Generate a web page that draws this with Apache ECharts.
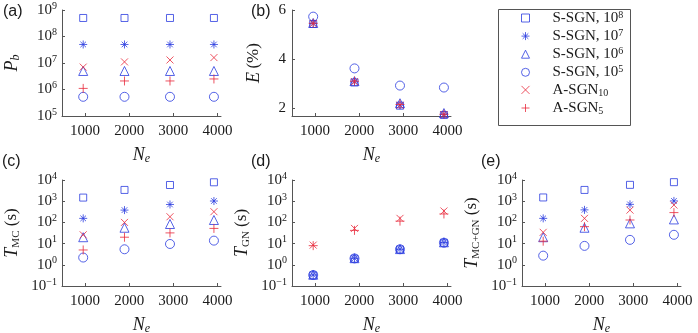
<!DOCTYPE html>
<html>
<head>
<meta charset="utf-8">
<script src="https://cdn.jsdelivr.net/npm/echarts@6/dist/echarts.min.js"></script>
<style>
  html, body { margin: 0; background: #fff; }
  #chart { width: 698px; height: 333px; }
</style>
</head>
<body>
<div id="chart"></div>
<script>
// N_e tick labels and where the points actually sit
var neTicks = [1000, 2000, 3000, 4000];
var nePos = [960, 1895, 2925, 3920];

var names = ['S-SGN, 10^8', 'S-SGN, 10^7', 'S-SGN, 10^6', 'S-SGN, 10^5', 'A-SGN_10', 'A-SGN_5'];

// (a) P_b
var pbVals = [
  [5e8, 5e8, 5e8, 5e8],
  [5e7, 5e7, 5e7, 5e7],
  [5e6, 5e6, 5e6, 5e6],
  [5.3e5, 5.3e5, 5.3e5, 5.3e5],
  [7e6, 1.1e7, 1.3e7, 1.6e7],
  [1.1e6, 2.1e6, 2.1e6, 2.5e6]
];
// (b) E (%)
var eVals = [
  [5.43, 3.05, 2.10, 1.72],
  [5.45, 3.07, 2.12, 1.74],
  [5.47, 3.10, 2.20, 1.80],
  [5.73, 3.62, 2.92, 2.84],
  [5.45, 3.08, 2.12, 1.74],
  [5.46, 3.10, 2.15, 1.75]
];
// (c) T_MC (s)
var tmcVals = [
  [1480, 3400, 5800, 7800],
  [155, 380, 700, 1020],
  [20, 56, 84, 130],
  [2.2, 5.4, 9.6, 13.8],
  [26, 100, 185, 320],
  [5, 20, 32, 52]
];
// (d) T_GN (s)
var tgnVals = [
  [0.32, 1.95, 5.3, 11],
  [0.33, 2.0, 5.4, 11.2],
  [0.34, 2.05, 5.5, 11.5],
  [0.33, 2.0, 5.4, 11],
  [8.5, 52, 155, 345],
  [8, 42, 115, 250]
];
// (e) T_MC+GN (s)
var ttotVals = [
  [1500, 3400, 5900, 7900],
  [155, 390, 710, 1030],
  [20, 56, 90, 138],
  [2.7, 7.8, 15, 26],
  [34, 155, 380, 660],
  [13, 63, 130, 290]
];
var logTicksA = [1e5, 1e6, 1e7, 1e8, 1e9];
var logTicksT = [0.1, 1, 10, 100, 1000, 10000];
var eTicks = [2, 4, 6];

var BLUE = '#2a3be0', RED = '#e8283a';
var SERIF = 'Liberation Serif';
var INK = '#1a1a1a';
var AXIS = '#555';

var markers = [
  { symbol: 'rect', size: 7, color: BLUE },
  { symbol: 'path://M5,0L5,10M0,5L10,5M1.5,1.5L8.5,8.5M1.5,8.5L8.5,1.5', size: 8, color: BLUE },
  { symbol: 'triangle', size: 9, color: BLUE },
  { symbol: 'circle', size: 9, color: BLUE },
  { symbol: 'path://M0,0L10,10M0,10L10,0', size: 7, color: RED },
  { symbol: 'path://M5,0L5,10M0,5L10,5', size: 9, color: RED }
];

var tickRich = {
  b: { fontFamily: SERIF, fontSize: 15, lineHeight: 18, color: INK },
  s: { fontFamily: SERIF, fontSize: 10, lineHeight: 10, verticalAlign: 'top', color: INK }
};
var nameRich = {
  i: { fontFamily: SERIF, fontSize: 18, fontStyle: 'italic', lineHeight: 20, color: INK },
  n: { fontFamily: SERIF, fontSize: 17, lineHeight: 20, color: INK },
  sub: { fontFamily: SERIF, fontSize: 11, lineHeight: 11, verticalAlign: 'bottom', color: INK },
  isub: { fontFamily: SERIF, fontSize: 12, fontStyle: 'italic', lineHeight: 11, verticalAlign: 'bottom', color: INK }
};

function logLabel(v) {
  var e = Math.round(Math.log10(v));
  return '{b|10}{s|' + (e < 0 ? '\u2212' + (-e) : e) + '}';
}

var panels = [
  { vals: pbVals, left: 62, top: 10, log: true, min: 1e5, max: 1e9, ticks: logTicksA,
    name: '{i|P}{isub|b}', gap: 40 },
  { vals: eVals, left: 292, top: 10, log: false, min: 1.68, max: 6, ticks: eTicks,
    name: '{i|E} {n|(%)}', gap: 28 },
  { vals: tmcVals, left: 62, top: 180, log: true, min: 0.1, max: 1e4, ticks: logTicksT,
    name: '{i|T}{sub|MC}{n| (s)}', gap: 40 },
  { vals: tgnVals, left: 292, top: 180, log: true, min: 0.1, max: 1e4, ticks: logTicksT,
    name: '{i|T}{sub|GN}{n| (s)}', gap: 40 },
  { vals: ttotVals, left: 522, top: 180, log: true, min: 0.1, max: 1e4, ticks: logTicksT,
    name: '{i|T}{sub|MC+GN}{n| (s)}', gap: 40 }
];

var grid = [], xAxis = [], yAxis = [], series = [];
panels.forEach(function (p, k) {
  grid.push({ left: p.left, top: p.top, width: 159, height: 106, outerBoundsMode: 'none' });
  xAxis.push({
    gridIndex: k, type: 'value', min: 480, max: 4080,
    axisLine: { show: true, lineStyle: { color: AXIS, width: 1 } },
    axisTick: { show: true, inside: true, length: 3, customValues: neTicks, lineStyle: { color: AXIS } },
    axisLabel: { customValues: neTicks, margin: 8, fontFamily: SERIF, fontSize: 15, color: INK,
      formatter: function (v) { return String(v); } },
    splitLine: { show: false },
    name: '{i|N}{isub|e}', nameLocation: 'middle', nameGap: 29,
    nameTextStyle: { rich: nameRich }
  });
  yAxis.push({
    gridIndex: k, type: p.log ? 'log' : 'value', logBase: 10, min: p.min, max: p.max,
    axisLine: { show: true, lineStyle: { color: AXIS, width: 1 } },
    axisTick: { show: true, inside: true, length: 3, customValues: p.ticks, lineStyle: { color: AXIS } },
    axisLabel: p.log
      ? { customValues: p.ticks, margin: 5, formatter: logLabel, rich: tickRich }
      : { customValues: p.ticks, margin: 6, fontFamily: SERIF, fontSize: 15, color: INK },
    splitLine: { show: false },
    name: p.name, nameLocation: 'middle', nameRotate: 90, nameGap: p.gap,
    nameTextStyle: { rich: nameRich }
  });
  p.vals.forEach(function (vals, s) {
    var m = markers[s];
    series.push({
      type: 'scatter', name: names[s], xAxisIndex: k, yAxisIndex: k,
      symbol: m.symbol, symbolSize: m.size, clip: false,
      itemStyle: { color: 'none', borderColor: m.color, borderWidth: 0.8, opacity: 1 },
      emphasis: { disabled: true },
      data: vals.map(function (v, i) { return [nePos[i], v]; })
    });
  });
});

var legendRich = {
  g: { width: 18 },
  n: { fontFamily: SERIF, fontSize: 15, lineHeight: 16, color: INK },
  sp: { fontFamily: SERIF, fontSize: 10, lineHeight: 8, verticalAlign: 'top', color: INK },
  sb: { fontFamily: SERIF, fontSize: 10, lineHeight: 8, verticalAlign: 'bottom', color: INK }
};

var option = {
  backgroundColor: '#fff',
  animation: false,
  grid: grid,
  xAxis: xAxis,
  yAxis: yAxis,
  series: series,
  legend: {
    data: names, orient: 'vertical', left: 496, top: 7,
    padding: [3, 0, 4, 23], itemGap: 2.6, itemWidth: 8, itemHeight: 8,
    itemStyle: { borderWidth: 0.8 },
    selectedMode: false,
    textStyle: { rich: legendRich },
    formatter: function (nm) {
      if (nm.indexOf('^') >= 0) {
        var a = nm.split('^');
        return '{g| }{n|' + a[0] + '}{sp|' + a[1] + '}';
      }
      var b = nm.split('_');
      return '{g| }{n|' + b[0] + '}{sb|' + b[1] + '}';
    }
  },
  graphic: [
    { type: 'rect', left: 496, top: 7, shape: { width: 132, height: 116 },
      style: { fill: 'none', stroke: '#555', lineWidth: 1 }, z: 10 },
    { type: 'text', left: 3, top: 4, style: { text: '(a)', font: '16px "Liberation Sans"', fill: INK } },
    { type: 'text', left: 251, top: 4, style: { text: '(b)', font: '16px "Liberation Sans"', fill: INK } },
    { type: 'text', left: 2, top: 154, style: { text: '(c)', font: '16px "Liberation Sans"', fill: INK } },
    { type: 'text', left: 251, top: 154, style: { text: '(d)', font: '16px "Liberation Sans"', fill: INK } },
    { type: 'text', left: 481, top: 154, style: { text: '(e)', font: '16px "Liberation Sans"', fill: INK } }
  ]
};

var myChart = echarts.init(document.getElementById('chart'));
myChart.setOption(option);
</script>
</body>
</html>
